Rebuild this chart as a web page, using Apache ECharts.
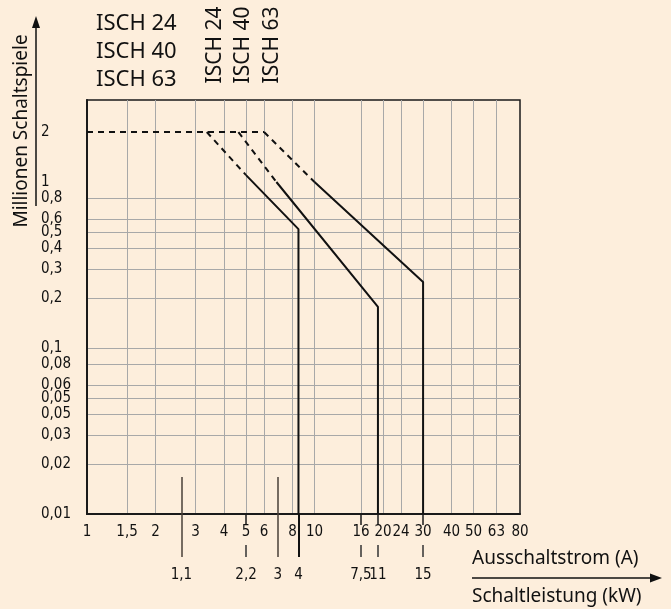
<!DOCTYPE html>
<html>
<head>
<meta charset="utf-8">
<script src="https://cdn.jsdelivr.net/npm/echarts@6/dist/echarts.min.js"></script>
<style>
  html, body { margin: 0; padding: 0; background: #fdeedc; }
  #chart { width: 671px; height: 609px; }
</style>
</head>
<body>
<div id="chart"></div>
<script>
  var lg = Math.log10;

  // Ausschaltstrom (A) - labels and grid lines
  var ampLabels = [1, 1.5, 2, 3, 4, 5, 6, 8, 10, 16, 20, 24, 30, 40, 50, 63, 80];
  var ampGrid = [1.5, 2, 3, 4, 5, 6, 8, 10, 16, 20, 24, 30, 40, 50, 63];

  // Millionen Schaltspiele
  var cycleValues = [0.01, 0.02, 0.03, 0.04, 0.05, 0.06, 0.08, 0.1, 0.2, 0.3, 0.4, 0.5, 0.6, 0.8, 1, 2];
  var cycleLabels = ['0,01', '0,02', '0,03', '0,05', '0,05', '0,06', '0,08', '0,1', '0,2', '0,3', '0,4', '0,5', '0,6', '0,8', '1', '2'];
  var cycleGrid = [0.02, 0.03, 0.04, 0.05, 0.06, 0.08, 0.1, 0.2, 0.3, 0.4, 0.5, 0.6, 0.8];

  // Schaltleistung (kW) and the current (A) it sits at
  var kwShortLabels = ['2,2', '7,5', '11', '15'];
  var kwShortAmps = [5, 16, 19, 30];
  var kwLongLabels = ['1,1', '3'];
  var kwLongAmps = [2.6, 6.9];
  var kwMotorLabels = ['4'];
  var kwMotorAmps = [8.5];

  // curves [A, Mio. Schaltspiele]
  var commonDashed = [[1, 2], [6, 2]];
  var isch24Dashed = [[3.36, 2], [5, 1.1]];
  var isch24Solid = [[5, 1.1], [8.5, 0.52], [8.5, 0.01]];
  var isch40Dashed = [[4.63, 2], [6.8, 1]];
  var isch40Solid = [[6.8, 1], [19, 0.177], [19, 0.01]];
  var isch63Dashed = [[6, 2], [10, 1]];
  var isch63Solid = [[10, 1], [30, 0.25], [30, 0.01]];

  var numFont = '"Liberation Sans Narrow", "DejaVu Sans Condensed", sans-serif';
  var txtFont = '"Noto Sans", sans-serif';
  var xMax = lg(80);

  function toLog(arr) {
    return arr.map(function (p) { return [lg(p[0]), lg(p[1])]; });
  }
  function lookup(values, labels) {
    return function (v) {
      for (var i = 0; i < values.length; i++) {
        if (Math.abs(lg(values[i]) - v) < 1e-6) return labels[i];
      }
      return '';
    };
  }
  function ampText(a) { return String(a).replace('.', ','); }

  function kwAxis(amps, labels, tickLen, tickColor, tickWidth) {
    return {
      type: 'value', position: 'bottom', offset: 43, min: 0, max: xMax,
      axisLine: { show: false, onZero: false },
      axisTick: { show: true, inside: true, length: tickLen, customValues: amps.map(lg),
        lineStyle: { color: tickColor, width: tickWidth } },
      axisLabel: { customValues: amps.map(lg), margin: 11, formatter: lookup(amps, labels),
        color: '#111', fontFamily: numFont, fontSize: 15 },
      splitLine: { show: false }
    };
  }

  function line(data, dashed) {
    return {
      type: 'line', data: toLog(data), symbol: 'none', silent: true, z: 5,
      lineStyle: { color: '#111', width: 2, type: dashed ? [6, 5] : 'solid' }
    };
  }

  var chart = echarts.init(document.getElementById('chart'));
  var option = {
    backgroundColor: '#fdeedc',
    animation: false,
    grid: { left: 87, top: 100, width: 433, height: 414, show: true,
      borderColor: '#1a1a1a', borderWidth: 1.5, backgroundColor: 'transparent' },
    xAxis: [
      {
        type: 'value', position: 'bottom', min: 0, max: xMax,
        axisLine: { show: true, onZero: false, lineStyle: { color: '#1a1a1a', width: 2 } },
        axisTick: { show: false, customValues: ampGrid.map(lg) },
        axisLabel: { customValues: ampLabels.map(lg), margin: 11, color: '#111',
          fontFamily: numFont, fontSize: 15, formatter: lookup(ampLabels, ampLabels.map(ampText)) },
        splitLine: { show: true, lineStyle: { color: '#a8a8a8', width: 1 } }
      },
      {
        type: 'value', position: 'bottom', min: 0, max: xMax,
        axisLine: { show: false, onZero: false },
        axisTick: { show: true, length: 11, customValues: kwShortAmps.map(lg),
          lineStyle: { color: '#1a1a1a', width: 1.5 } },
        axisLabel: { show: false },
        splitLine: { show: false }
      },
      kwAxis(kwShortAmps, kwShortLabels, 12, '#333', 1.5),
      kwAxis(kwLongAmps, kwLongLabels, 80, '#4a4038', 1.5),
      kwAxis(kwMotorAmps, kwMotorLabels, 43, '#111', 2)
    ],
    yAxis: {
      type: 'value', min: -2, max: 0.494,
      axisLine: { show: true, onZero: false, lineStyle: { color: '#1a1a1a', width: 2 } },
      axisTick: { show: false, customValues: cycleGrid.map(lg) },
      axisLabel: { customValues: cycleValues.map(lg), align: 'left', margin: 46, color: '#111',
        fontFamily: numFont, fontSize: 15, lineHeight: 14, formatter: lookup(cycleValues, cycleLabels) },
      splitLine: { show: true, lineStyle: { color: '#a8a8a8', width: 1 } }
    },
    series: [
      line(commonDashed, true),
      line(isch24Dashed, true),
      line(isch24Solid, false),
      line(isch40Dashed, true),
      line(isch40Solid, false),
      line(isch63Dashed, true),
      line(isch63Solid, false)
    ],
    graphic: [
      { type: 'text', x: 96, y: 24, style: { text: 'ISCH 24', font: '22px ' + txtFont, fill: '#111', textVerticalAlign: 'middle' } },
      { type: 'text', x: 96, y: 52, style: { text: 'ISCH 40', font: '22px ' + txtFont, fill: '#111', textVerticalAlign: 'middle' } },
      { type: 'text', x: 96, y: 80, style: { text: 'ISCH 63', font: '22px ' + txtFont, fill: '#111', textVerticalAlign: 'middle' } },
      { type: 'text', x: 215, y: 45, rotation: Math.PI / 2, style: { text: 'ISCH 24', font: '21px ' + txtFont, fill: '#111', textAlign: 'center', textVerticalAlign: 'middle' } },
      { type: 'text', x: 243, y: 45, rotation: Math.PI / 2, style: { text: 'ISCH 40', font: '21px ' + txtFont, fill: '#111', textAlign: 'center', textVerticalAlign: 'middle' } },
      { type: 'text', x: 272, y: 45, rotation: Math.PI / 2, style: { text: 'ISCH 63', font: '21px ' + txtFont, fill: '#111', textAlign: 'center', textVerticalAlign: 'middle' } },
      { type: 'text', x: 22, y: 131, rotation: Math.PI / 2, style: { text: 'Millionen Schaltspiele', font: '19px ' + txtFont, fill: '#111', textAlign: 'center', textVerticalAlign: 'middle' } },
      { type: 'line', shape: { x1: 36, y1: 206, x2: 36, y2: 24 }, style: { stroke: '#111', lineWidth: 1.5 } },
      { type: 'polygon', shape: { points: [[32, 28], [40, 28], [36, 16]] }, style: { fill: '#111' } },
      { type: 'text', x: 472, y: 559, style: { text: 'Ausschaltstrom (A)', font: '19px ' + txtFont, fill: '#111', textVerticalAlign: 'middle' } },
      { type: 'text', x: 472, y: 597, style: { text: 'Schaltleistung (kW)', font: '19px ' + txtFont, fill: '#111', textVerticalAlign: 'middle' } },
      { type: 'line', shape: { x1: 472, y1: 578, x2: 652, y2: 578 }, style: { stroke: '#111', lineWidth: 1.5 } },
      { type: 'polygon', shape: { points: [[650, 573.5], [650, 582.5], [662, 578]] }, style: { fill: '#111' } }
    ]
  };
  chart.setOption(option);
</script>
</body>
</html>
